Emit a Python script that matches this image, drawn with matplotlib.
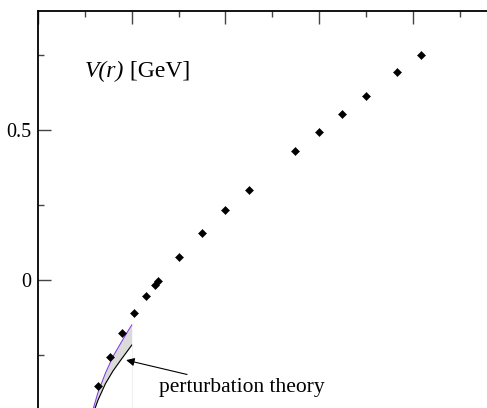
import numpy as np
import matplotlib
matplotlib.use("Agg")
import matplotlib.pyplot as plt
from matplotlib.ticker import MultipleLocator

# lattice data, r/r0 vs V(r) in GeV
r = [0.322, 0.386, 0.450, 0.514, 0.576, 0.624, 0.640, 0.750, 0.875, 0.999,
     1.124, 1.372, 1.499, 1.623, 1.748, 1.915, 2.043]
V = [-0.352, -0.256, -0.178, -0.111, -0.053, -0.015, -0.003, 0.077, 0.158,
     0.232, 0.301, 0.431, 0.493, 0.554, 0.614, 0.692, 0.750]

# perturbation theory band (upper/lower edge)
r_pt = [0.28, 0.32, 0.36, 0.40, 0.44, 0.48, 0.50]
V_pt_up = [-0.460, -0.375, -0.310, -0.255, -0.212, -0.170, -0.150]
V_pt_lo = [-0.470, -0.400, -0.345, -0.303, -0.268, -0.234, -0.217]

plt.rcParams["font.family"] = ["Liberation Serif", "DejaVu Serif"]

fig = plt.figure(figsize=(4.87, 4.08), dpi=100)
ax = fig.add_axes([38 / 487, 0, 1 - 38 / 487, 397 / 408])
ax.set_xlim(0, 449 / 187.5)
ax.set_ylim(-128 / 300, 269 / 300)

ax.fill_between(r_pt, V_pt_lo, V_pt_up, color="#dadada", lw=0)
ax.plot(r_pt, V_pt_up, color="#8040e0", lw=0.8)
ax.plot(r_pt, V_pt_lo, color="black", lw=0.8)
ax.plot([r_pt[-1], r_pt[-1]], [V_pt_lo[-1], -0.5], color="#ececec", lw=0.6)

ax.plot(r, V, "D", color="black", ms=3.6, mew=0.4)

ax.annotate("perturbation theory", xy=(0.47, -0.267), xytext=(0.645, -0.358),
            fontsize=15.5, va="center", ha="left",
            arrowprops=dict(arrowstyle="-|>", color="black", lw=0.8,
                            shrinkA=2, shrinkB=0, mutation_scale=12))
t1 = ax.text(0.25, 0.695, "V(r)", fontsize=17, style="italic", va="center", ha="left")
ax.annotate(" [GeV]", xy=(1, 0.5), xycoords=t1, fontsize=17, va="center", ha="left")

for s in ["bottom", "right"]:
    ax.spines[s].set_visible(False)
for s in ["left", "top"]:
    ax.spines[s].set_linewidth(1.3)

ax.xaxis.set_major_locator(MultipleLocator(0.5))
ax.xaxis.set_minor_locator(MultipleLocator(0.25))
ax.yaxis.set_major_locator(MultipleLocator(0.5))
ax.yaxis.set_minor_locator(MultipleLocator(0.25))
ax.yaxis.set_major_formatter(plt.FuncFormatter(lambda v, p: "0" if abs(v) < 1e-9 else f"{v:g}"))
ax.tick_params(axis="x", which="both", direction="in", top=True, bottom=False,
               labeltop=False, labelbottom=False, color="#444444")
ax.tick_params(axis="x", which="major", length=9, width=1.0)
ax.tick_params(axis="x", which="minor", length=4.5, width=1.0)
ax.tick_params(axis="y", which="both", direction="in", left=True, right=False,
               labelsize=14.5, color="#444444")
ax.tick_params(axis="y", which="major", length=9, width=1.0, pad=5)
ax.tick_params(axis="y", which="minor", length=4.5, width=1.0)

fig.savefig("out.png", dpi=100)
